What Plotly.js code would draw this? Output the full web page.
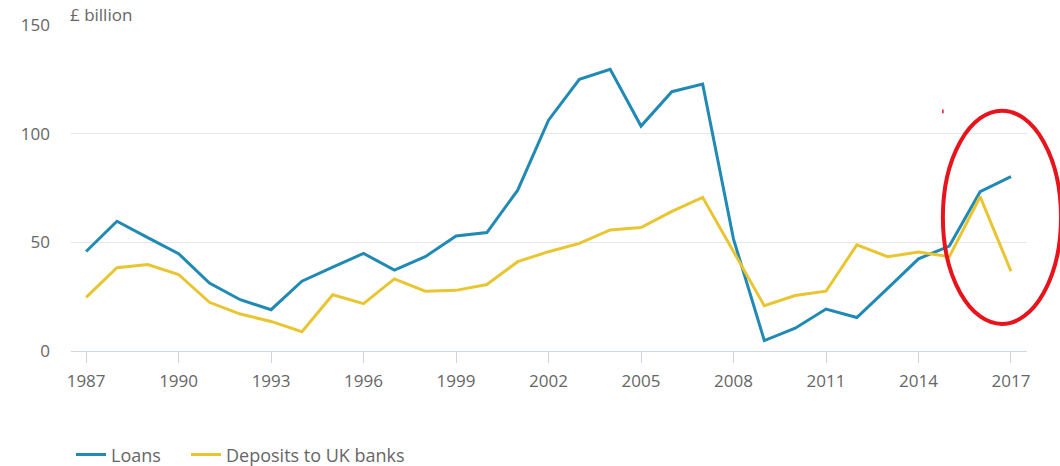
<!DOCTYPE html>
<html>
<head>
<meta charset="utf-8">
<script src="https://cdn.plot.ly/plotly-3.0.1.min.js"></script>
<style>html,body{margin:0;padding:0;background:#fff;}#chart{width:1060px;height:466px;}</style>
</head>
<body>
<div id="chart"></div>
<script>
const years = [1987,1988,1989,1990,1991,1992,1993,1994,1995,1996,1997,1998,1999,2000,2001,2002,2003,2004,2005,2006,2007,2008,2009,2010,2011,2012,2013,2014,2015,2016,2017];
const loans = [45.8,59.7,52.2,44.8,31.3,23.6,19.0,32.1,38.6,44.9,37.2,43.4,52.9,54.5,74.0,106.2,125.0,129.6,103.5,119.3,122.8,51.5,4.8,10.5,19.3,15.4,28.8,42.4,48.3,73.3,80.2];
const deposits = [24.7,38.3,39.8,35.2,22.4,17.0,13.6,8.9,25.9,21.8,33.2,27.5,27.9,30.6,41.1,45.7,49.5,55.7,56.8,64.2,70.7,45.5,20.8,25.5,27.5,48.8,43.4,45.5,43.4,71.0,36.7];
const tickYears = [1987,1990,1993,1996,1999,2002,2005,2008,2011,2014,2017];
const seriesNames = ['Loans','Deposits to UK banks'];
const unitLabel = '£ billion';

const font = 'Open Sans, sans-serif';
const traces = [
  {x: years, y: loans, name: seriesNames[0], type: 'scatter', mode: 'lines',
   line: {color: '#2089b4', width: 3}, legend: 'legend'},
  {x: years, y: deposits, name: seriesNames[1], type: 'scatter', mode: 'lines',
   line: {color: '#eac532', width: 3}, legend: 'legend2'}
];
const legendBase = {orientation: 'h', xanchor: 'left', yref: 'container', y: 0.024, yanchor: 'middle',
           font: {family: font, size: 18, color: '#666666'}, itemwidth: 30};
const layout = {
  width: 1060, height: 466,
  margin: {l: 71, r: 33, t: 25, b: 115, autoexpand: false},
  paper_bgcolor: '#fff', plot_bgcolor: '#fff',
  font: {family: font, color: '#666666', size: 17},
  showlegend: true,
  legend: Object.assign({}, legendBase, {x: 0}),
  legend2: Object.assign({}, legendBase, {x: 0.1203}),
  xaxis: {range: [1986.51, 2017.52], tickmode: 'array', tickvals: tickYears,
          ticktext: tickYears.map(String), showgrid: false, zeroline: false,
          showline: true, linecolor: '#ccd6eb', linewidth: 1,
          ticks: 'outside', ticklen: 11, tickcolor: '#ccd6eb', tickwidth: 1,
          ticklabelstandoff: 4,
          tickfont: {family: font, size: 17, color: '#666666'}, fixedrange: true},
  yaxis: {range: [0, 150], tickvals: [0, 50, 100, 150], showgrid: true,
          gridcolor: '#e6e6e6', gridwidth: 1, zeroline: false, showline: false,
          ticks: '', ticklabelstandoff: 20,
          tickfont: {family: font, size: 17, color: '#666666'}, fixedrange: true},
  annotations: [
    {text: unitLabel, xref: 'paper', yref: 'paper', x: 0, y: 1, xanchor: 'left', yanchor: 'bottom',
     xshift: -3, yshift: -3, showarrow: false, font: {family: font, size: 17, color: '#666666'}}
  ],
  shapes: [
    {type: 'circle', xref: 'paper', yref: 'paper', x0: 0.912, x1: 1.0356, y0: 0.083, y1: 0.737,
     line: {color: '#e8141c', width: 4}},
    {type: 'line', xref: 'paper', yref: 'paper', x0: 0.912, x1: 0.912, y0: 0.729, y1: 0.741,
     line: {color: '#e8141c', width: 1.5}}
  ]
};
Plotly.newPlot('chart', traces, layout, {displayModeBar: false, staticPlot: true});
</script>
</body>
</html>
